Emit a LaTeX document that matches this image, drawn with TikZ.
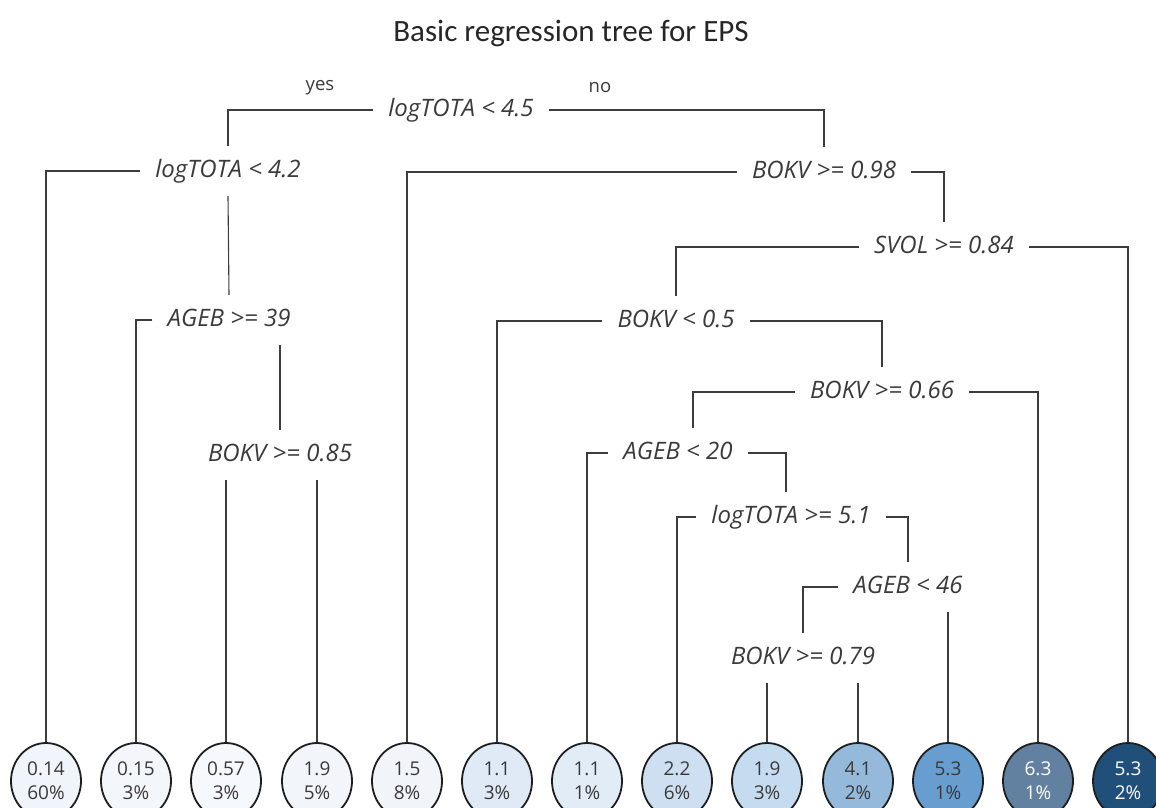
\documentclass[tikz,border=0pt]{standalone}
\usepackage{fontspec}
\setmainfont{Open Sans}
\newfontfamily\titlefont{Carlito}
\usepackage{tikz}
\usetikzlibrary{shapes,positioning,calc}
\usepackage{xcolor}
\definecolor{textgray}{HTML}{3A3A3A}
\definecolor{linegray}{HTML}{3C3C3C}
\definecolor{ringgray}{HTML}{1E1E1E}
\definecolor{leafA}{HTML}{F0F4FB}
\definecolor{leafB}{HTML}{F3F6FB}
\definecolor{leafC}{HTML}{F5F8FC}
\definecolor{leafD}{HTML}{F2F6FB}
\definecolor{leafE}{HTML}{F1F5FA}
\definecolor{leafF}{HTML}{DFEAF6}
\definecolor{leafG}{HTML}{E2ECF6}
\definecolor{leafH}{HTML}{CDDFF1}
\definecolor{leafI}{HTML}{C5DBEF}
\definecolor{leafJ}{HTML}{95B9DB}
\definecolor{leafK}{HTML}{689DCF}
\definecolor{leafL}{HTML}{62809F}
\definecolor{leafM}{HTML}{204F7A}

\begin{document}
\begin{tikzpicture}[x=1pt,y=-1pt,
    split/.style={font=\fontsize{24}{28}\selectfont\itshape, text=textgray,
      inner xsep=15pt, inner ysep=14pt, text height=17pt, text depth=5pt},
    yesno/.style={font=\fontsize{18.5}{22}\selectfont, text=textgray},
    leaf/.style={draw=ringgray, line width=1.8pt, ellipse, minimum width=70pt,
      minimum height=76pt, inner sep=0pt, align=center,
      font=\fontsize{19}{24}\selectfont, text=textgray},
    branch/.style={draw=linegray, line width=1.1pt}]
    \useasboundingbox (0,0) rectangle (1156,807);
    \clip (0,0) rectangle (1156,807);

    % title
    \node[font=\titlefont\fontsize{31}{36}\selectfont, text=black!85] (title) at (571,33) {Basic regression tree for EPS};

    % splits, top to bottom
    \node[split] (r) at (461,110) {logTOTA < 4.5};
    \node[yesno] (yes) at (320,88) {yes};
    \node[yesno] (no) at (600,88) {no};
    \node[split] (s1) at (228,171) {logTOTA < 4.2};
    \node[split] (s2) at (824,172) {BOKV >= 0.98};
    \node[split] (s5) at (944,247) {SVOL >= 0.84};
    \node[split] (s3) at (229,320) {AGEB >= 39};
    \node[split] (s6) at (676,321) {BOKV < 0.5};
    \node[split] (s7) at (882,392) {BOKV >= 0.66};
    \node[split] (s4) at (280,455) {BOKV >= 0.85};
    \node[split] (s8) at (678,453) {AGEB < 20};
    \node[split] (s9) at (791,517) {logTOTA >= 5.1};
    \node[split] (s10) at (908,587) {AGEB < 46};
    \node[split] (s11) at (803,658) {BOKV >= 0.79};

    % leaves, left to right
    \node[leaf, fill=leafA] (l1) at (46,781) {0.14\\60\%};
    \node[leaf, fill=leafB] (l2) at (136,781) {0.15\\3\%};
    \node[leaf, fill=leafC] (l3) at (226,781) {0.57\\3\%};
    \node[leaf, fill=leafD] (l4) at (317,781) {1.9\\5\%};
    \node[leaf, fill=leafE] (l5) at (407,781) {1.5\\8\%};
    \node[leaf, fill=leafF] (l6) at (497,781) {1.1\\3\%};
    \node[leaf, fill=leafG] (l7) at (587,781) {1.1\\1\%};
    \node[leaf, fill=leafH] (l8) at (677,781) {2.2\\6\%};
    \node[leaf, fill=leafI] (l9) at (767,781) {1.9\\3\%};
    \node[leaf, fill=leafJ] (l10) at (858,781) {4.1\\2\%};
    \node[leaf, fill=leafK] (l11) at (948,781) {5.3\\1\%};
    \node[leaf, fill=leafL, text=white] (l12) at (1038,781) {6.3\\1\%};
    \node[leaf, fill=leafM, text=white] (l13) at (1128,781) {5.3\\2\%};

    % left part of the tree
    \draw[branch] (r.west) -| (s1.north);
    \draw[branch] (r.east) -| (s2.north);
    \draw[branch] (s1.west) -| (l1.north);
    \draw[branch] (s1.south) -- (s3.north);
    \draw[branch] (s3.west) -| (l2.north);
    \draw[branch] (s4.north |- s3.south) -- (s4.north);
    \draw[branch] (l3.north |- s4.south) -- (l3.north);
    \draw[branch] (l4.north |- s4.south) -- (l4.north);

    % right part of the tree
    \draw[branch] (s2.west) -| (l5.north);
    \draw[branch] (s2.east) -| (s5.north);
    \draw[branch] (s5.west) -| (s6.north);
    \draw[branch] (s5.east) -| (l13.north);
    \draw[branch] (s6.west) -| (l6.north);
    \draw[branch] (s6.east) -| (s7.north);
    \draw[branch] (s7.west) -| ([xshift=15pt]s8.north);
    \draw[branch] (s7.east) -| (l12.north);
    \draw[branch] (s8.west) -| (l7.north);
    \draw[branch] (s8.east) -| ([xshift=-5pt]s9.north);
    \draw[branch] (s9.west) -| (l8.north);
    \draw[branch] (s9.east) -| (s10.north);
    \draw[branch] (s10.west) -| (s11.north);
    \draw[branch] (l11.north |- s10.south) -- (l11.north);
    \draw[branch] (l9.north |- s11.south) -- (l9.north);
    \draw[branch] (l10.north |- s11.south) -- (l10.north);
\end{tikzpicture}
\end{document}
